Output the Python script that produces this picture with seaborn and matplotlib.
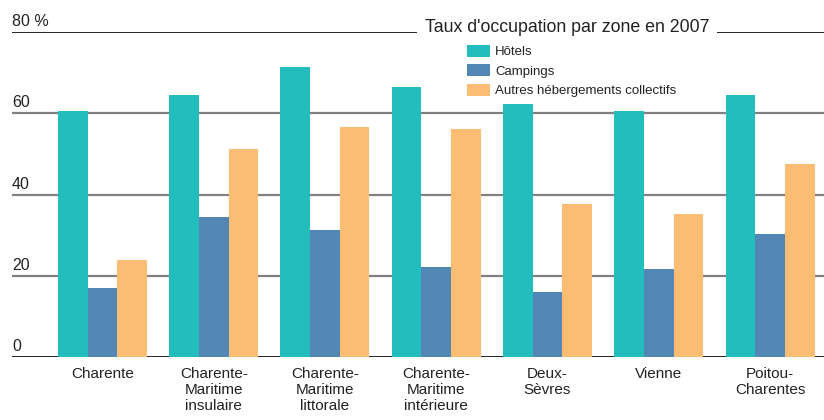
import numpy as np
import pandas as pd
import matplotlib.pyplot as plt
import seaborn as sns

zones = ["Charente", "Charente-\nMaritime\ninsulaire", "Charente-\nMaritime\nlittorale",
         "Charente-\nMaritime\nintérieure", "Deux-\nSèvres", "Vienne", "Poitou-\nCharentes"]
series = ["Hôtels", "Campings", "Autres hébergements collectifs"]
hotels = [60.5, 64.5, 71.4, 66.4, 62.2, 60.5, 64.4]
campings = [17.0, 34.5, 31.3, 22.2, 16.1, 21.7, 30.3]
autres = [23.9, 51.2, 56.6, 56.1, 37.7, 35.2, 47.5]
colors = ["#23bdbd", "#5287b5", "#fbbc74"]
yticks = [0, 20, 40, 60, 80]
ytick_labels = ["0", "20", "40", "60", "80 %"]

df = pd.DataFrame({
    "zone": zones * 3,
    "type": [s for s in series for _ in zones],
    "taux": hotels + campings + autres,
})

sns.set_style("white")
plt.rcParams["font.family"] = ["Liberation Sans", "DejaVu Sans"]

fig = plt.figure(figsize=(8.24, 4.2), dpi=100)
ax = fig.add_axes([12 / 824, 63 / 420, 812 / 824, 325 / 420])

sns.barplot(data=df, x="zone", y="taux", hue="type", palette=colors,
            width=0.8, saturation=1, linewidth=0, ax=ax, zorder=3)

ax.set_xlim(-0.813, 6.485)
ax.set_ylim(0, 80)
for s in ax.spines.values():
    s.set_visible(False)
ax.set_yticks([])
ax.set_xlabel("")
ax.set_ylabel("")
ax.tick_params(axis="x", length=0, pad=7, labelsize=11, colors="#222222")

# lignes horizontales + étiquettes posées au-dessus, à gauche
for v, lab in zip(yticks, ytick_labels):
    if v in (0, 80):
        ax.axhline(v, color="#222222", lw=1.4, zorder=1)
    else:
        ax.axhline(v, color="#808080", lw=1.6, zorder=1)
    ax.text(0, v + 0.7, lab, transform=ax.get_yaxis_transform(),
            ha="left", va="bottom", fontsize=11.5, color="#222222")

leg = ax.legend(loc="upper left", bbox_to_anchor=(467 / 824, 1 - 45 / 420),
                bbox_transform=fig.transFigure, frameon=False, fontsize=9.5,
                handlelength=1.75, handleheight=1.0, handletextpad=0.4,
                labelspacing=0.45, borderaxespad=0, borderpad=0)
leg.set_zorder(6)
for t in leg.get_texts():
    t.set_color("#222222")

ax.text(567 / 824, 1 - 28 / 420, "Taux d'occupation par zone en 2007",
        transform=fig.transFigure, ha="center", va="center", fontsize=12.8,
        color="#222222", zorder=5, clip_on=False,
        bbox=dict(boxstyle="square,pad=0.45", fc="white", ec="none"))

fig.savefig("out.png", dpi=100)
